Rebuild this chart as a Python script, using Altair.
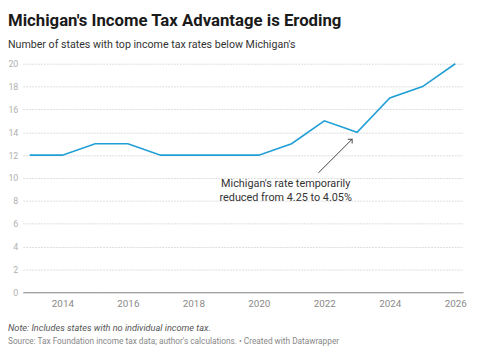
import altair as alt
import pandas as pd

years = [2013, 2014, 2015, 2016, 2017, 2018, 2019, 2020, 2021, 2022, 2023, 2024, 2025, 2026]
states_below = [12, 12, 13, 13, 12, 12, 12, 12, 13, 15, 14, 17, 18, 20]

y_ticks = [0, 2, 4, 6, 8, 10, 12, 14, 16, 18, 20]
x_ticks = [2014, 2016, 2018, 2020, 2022, 2024, 2026]

title_text = "Michigan's Income Tax Advantage is Eroding"
subtitle_text = "Number of states with top income tax rates below Michigan's"
note_text = "Note: Includes states with no individual income tax."
source_text = "Source: Tax Foundation income tax data; author's calculations. \u2022 Created with Datawrapper"

annot_lines = ["Michigan's rate temporarily", "reduced from 4.25 to 4.05%"]
annot_x = [2020.82, 2020.82]
annot_y = [9.45, 8.25]

arrow_x = [2021.82]
arrow_y = [10.45]
arrow_x2 = [2022.85]
arrow_y2 = [13.4]

FONT = "Roboto"
LINE_COLOR = "#1f9fd6"

df = pd.DataFrame({"year": years, "value": states_below})

xscale = alt.Scale(domain=[2012.79, 2026.24], nice=False, zero=False)
yscale = alt.Scale(domain=[0, 20], nice=False)

X_AXIS = alt.Axis(values=x_ticks, format="d", title=None, grid=False,
                  ticks=False, domain=True, domainColor="#888888", domainWidth=1.2,
                  labelFont=FONT, labelFontSize=10, labelColor="#8a8a8a",
                  labelPadding=6, labelOverlap=False, labelBound=False)
Y_AXIS = alt.Axis(values=y_ticks, title=None, domain=False, ticks=False,
                  grid=True, gridColor="#dcdcdc", gridDash=[2, 1], gridWidth=1,
                  labelFont=FONT, labelFontSize=9, labelColor="#b0b0b0",
                  labelPadding=5, labelBaseline="middle", labelOverlap=False,
                  labelFlush=False)

line = alt.Chart(df).mark_line(color=LINE_COLOR, strokeWidth=1.6).encode(
    x=alt.X("year:Q", scale=xscale, axis=X_AXIS),
    y=alt.Y("value:Q", scale=yscale, axis=Y_AXIS),
)

annot_df = pd.DataFrame({"x": annot_x, "y": annot_y, "t": annot_lines})
annot = alt.Chart(annot_df).mark_text(font=FONT, fontSize=11, color="#333333",
                                      align="center", baseline="middle").encode(
    x=alt.X("x:Q", scale=xscale, axis=X_AXIS), y=alt.Y("y:Q", scale=yscale, axis=Y_AXIS),
    text="t:N")

arrow_df = pd.DataFrame({"x": arrow_x, "y": arrow_y, "x2": arrow_x2, "y2": arrow_y2})
arrow_line = alt.Chart(arrow_df).mark_rule(color="#444444", strokeWidth=1).encode(
    x=alt.X("x:Q", scale=xscale, axis=X_AXIS), y=alt.Y("y:Q", scale=yscale, axis=Y_AXIS),
    x2="x2:Q", y2="y2:Q")
arrow_head = alt.Chart(arrow_df).mark_point(
    shape="M-1,1L0,0L1,1", size=40, color="#444444", strokeWidth=1, filled=False,
    angle=45, opacity=1).encode(
    x=alt.X("x2:Q", scale=xscale, axis=X_AXIS), y=alt.Y("y2:Q", scale=yscale, axis=Y_AXIS))

title = alt.Chart(pd.DataFrame({"t": [title_text]})).mark_text(
    font=FONT, fontSize=17, fontWeight="bold", color="#1a1a1a",
    align="left", baseline="alphabetic").encode(
    text="t:N", x=alt.value(-15), y=alt.value(-38))
sub = alt.Chart(pd.DataFrame({"t": [subtitle_text]})).mark_text(
    font=FONT, fontSize=10.8, color="#333333", align="left", baseline="alphabetic").encode(
    text="t:N", x=alt.value(-15), y=alt.value(-16))
note = alt.Chart(pd.DataFrame({"t": [note_text]})).mark_text(
    font=FONT, fontSize=9.3, fontStyle="italic", color="#555555", align="left",
    baseline="middle").encode(text="t:N", x=alt.value(-15), y=alt.value(268))
source = alt.Chart(pd.DataFrame({"t": [source_text]})).mark_text(
    font=FONT, fontSize=8.4, color="#888888", align="left",
    baseline="middle").encode(text="t:N", x=alt.value(-15), y=alt.value(282))

chart = alt.layer(line, arrow_line, arrow_head, annot, title, sub, note, source).properties(
    width=447, height=232,
    autosize=alt.AutoSizeParams(type="none"),
    padding={"left": 15, "top": 54, "right": 9, "bottom": 55},
    background="white",
).configure_view(stroke=None)

chart.save("out.html", embed_options={"renderer": "svg", "actions": False})
